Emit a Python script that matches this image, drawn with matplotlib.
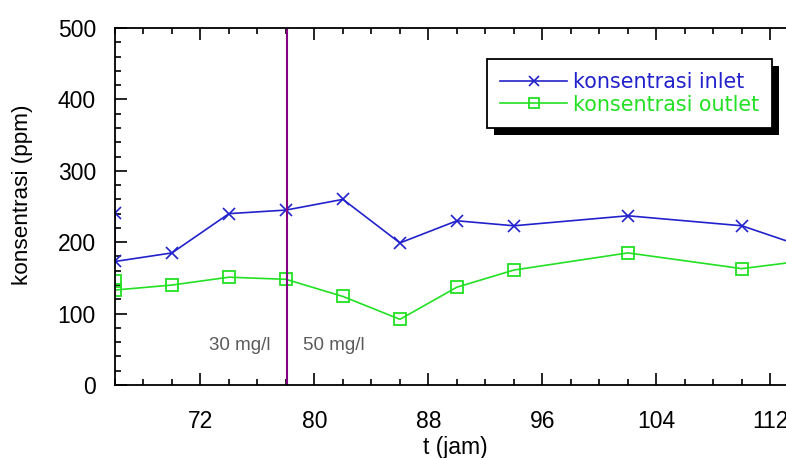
import matplotlib
matplotlib.use("Agg")
import matplotlib.pyplot as plt
from matplotlib.patches import Rectangle
from matplotlib.transforms import IdentityTransform
from matplotlib.ticker import MultipleLocator

plt.rcParams['font.family'] = ['Liberation Sans', 'DejaVu Sans']

t_inlet = [66, 66, 70, 74, 78, 82, 86, 90, 94, 102, 110, 114]
inlet = [241, 173, 185, 240, 245, 260, 199, 230, 223, 237, 223, 196]
t_outlet = [66, 66, 70, 74, 78, 82, 86, 90, 94, 102, 110, 114]
outlet = [146, 133, 140, 151, 148, 124, 92, 137, 161, 185, 163, 173]
switch_t = 78
labels = ["konsentrasi inlet", "konsentrasi outlet"]

fig = plt.figure(figsize=(7.86, 4.58), dpi=100)
ax = fig.add_axes([115/786, 1-385/458, 1-115/786, (385-28)/458])

c_in = '#2222cc'
c_out = '#22e022'
ax.plot(t_inlet, inlet, color=c_in, lw=1.2, marker='x', ms=9, mew=1.2, label=labels[0])
ax.plot(t_outlet, outlet, color=c_out, lw=1.2, marker='s', ms=9, mfc='none', mew=1.3, label=labels[1])
ax.axvline(switch_t + 0.1, color='#800080', lw=1.5)

ax.text(switch_t - 1.1, 56, "30 mg/l", ha='right', va='center', color='#5a5a5a', fontsize=13.5)
ax.text(switch_t + 1.2, 56, "50 mg/l", ha='left', va='center', color='#5a5a5a', fontsize=13.5)

ax.set_xlim(66, 113.1)
ax.set_ylim(0, 500)
ax.xaxis.set_major_locator(MultipleLocator(8))
ax.xaxis.set_minor_locator(MultipleLocator(2))
ax.yaxis.set_major_locator(MultipleLocator(100))
ax.yaxis.set_minor_locator(MultipleLocator(20))
ax.tick_params(which='both', direction='in', top=True, right=False, width=1.2, labelsize=16.5)
ax.tick_params(which='major', length=8.5)
ax.tick_params(which='minor', length=4.5)
ax.tick_params(axis='x', which='major', pad=18)
ax.tick_params(axis='y', which='major', pad=13.7)
ax.spines['right'].set_visible(False)
for s in ['left', 'top', 'bottom']:
    ax.spines[s].set_linewidth(1.3)

ax.set_xlabel("t (jam)", fontsize=16.5)
ax.set_ylabel("konsentrasi (ppm)", fontsize=16.2)
ax.xaxis.set_label_coords(0.507, -0.143)
ax.yaxis.set_label_coords(-0.122, 0.532)

leg = ax.legend(loc='upper left', bbox_to_anchor=((487-115)/671, (385-59)/357),
                frameon=True, fancybox=False, edgecolor='black', framealpha=1,
                prop={'family': 'DejaVu Sans', 'size': 14.9},
                handlelength=3.2, handletextpad=0.3, borderpad=0.65,
                labelspacing=0.1, borderaxespad=0)
leg.get_frame().set_linewidth(1.3)
for txt, c in zip(leg.get_texts(), [c_in, c_out]):
    txt.set_color(c)
for h in leg.legend_handles:
    h.set_markersize(7)
leg.set_zorder(6)

fig.canvas.draw()
bb = leg.get_window_extent()
shadow = Rectangle((bb.x0 + 7, bb.y0 - 7), bb.width, bb.height, transform=IdentityTransform(),
                   facecolor='black', edgecolor='none', zorder=5.5, clip_on=False)
ax.add_patch(shadow)

fig.savefig("out.png", dpi=100)
